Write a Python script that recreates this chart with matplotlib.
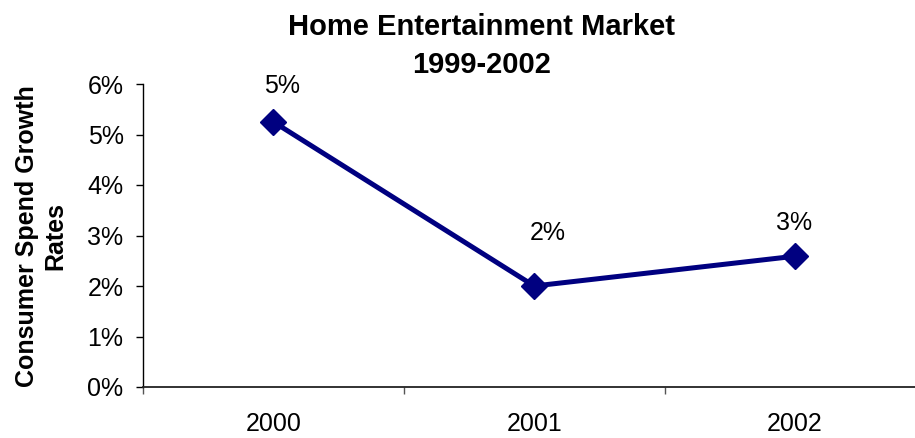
import matplotlib
matplotlib.use("Agg")
import matplotlib.pyplot as plt
from matplotlib.ticker import FuncFormatter, FixedLocator

plt.rcParams['font.family'] = ['Liberation Sans', 'DejaVu Sans']

years = ['2000', '2001', '2002']
growth = [0.0525, 0.0200, 0.0259]
labels = ['5%', '2%', '3%']
yticks = [0, 0.01, 0.02, 0.03, 0.04, 0.05, 0.06]

navy = '#000080'

fig = plt.figure(figsize=(9.15, 4.38), dpi=100)
# x axis runs a little past the right edge of the figure
ax = fig.add_axes([143 / 915, 51 / 438, 782.5 / 915, 303 / 438])

x = list(range(len(years)))
ax.plot(x, growth, color=navy, lw=3.6, marker='D', ms=13.5, zorder=3, clip_on=False)

# label offsets in points, per point
offsets = [(6.5, 26), (10, 38), (-0.5, 24)]
for xi, yi, txt, off in zip(x, growth, labels, offsets):
    ax.annotate(txt, (xi, yi), xytext=off, textcoords='offset points',
                ha='center', va='center', fontsize=18)

ax.set_xlim(-0.5, 2.5)
ax.set_ylim(0, 0.06)
ax.set_xticks(x)
ax.set_xticklabels(years, fontsize=18)
ax.xaxis.set_minor_locator(FixedLocator([-0.5, 0.5, 1.5, 2.5]))
ax.tick_params(axis='x', which='major', length=0, pad=18)
ax.tick_params(axis='x', which='minor', length=5, width=1, direction='out', color='#555555')
ax.set_yticks(yticks)
ax.yaxis.set_major_formatter(FuncFormatter(lambda v, p: '%d%%' % round(v * 100)))
ax.tick_params(axis='y', length=5, width=1, direction='out', labelsize=18, pad=9)

for s in ['top', 'right']:
    ax.spines[s].set_visible(False)
ax.spines['left'].set_linewidth(1)
ax.spines['bottom'].set_linewidth(1.3)
ax.spines['bottom'].set_color('#222222')

fig.text(482 / 915, 1 - 35 / 438, 'Home Entertainment Market', ha='center', va='baseline',
         fontsize=21, fontweight='bold')
fig.text(482 / 915, 1 - 73 / 438, '1999-2002', ha='center', va='baseline',
         fontsize=21, fontweight='bold')
fig.text(41 / 915, 1 - 236 / 438, 'Consumer Spend Growth\nRates', rotation=90,
         ha='center', va='center', fontsize=18, fontweight='bold', linespacing=1.2)

fig.savefig('out.png', dpi=100)
